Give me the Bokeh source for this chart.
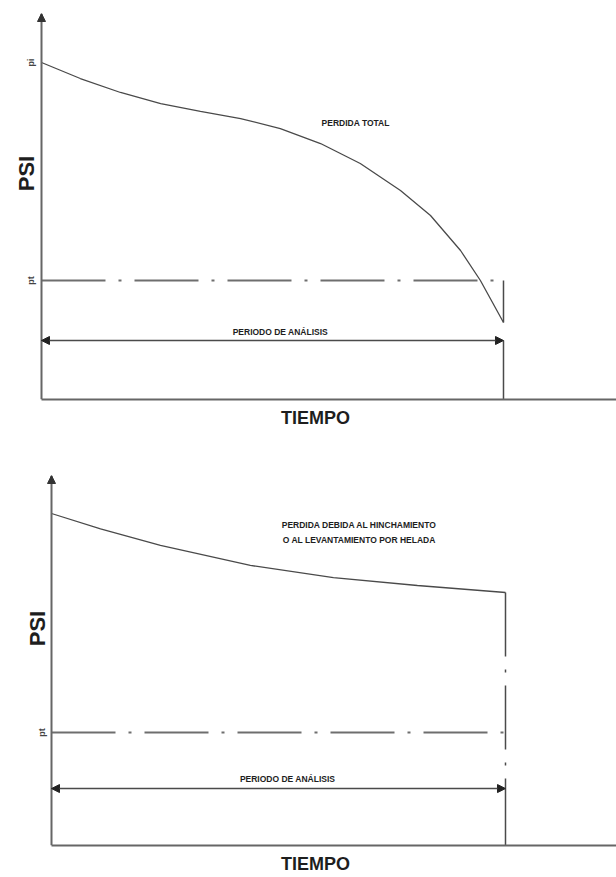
import math
from bokeh.plotting import figure
from bokeh.layouts import column
from bokeh.models import Range1d, FixedTicker, Label, Arrow, NormalHead
from bokeh.core.properties import value
from bokeh.embed import file_html
from bokeh.resources import INLINE

# ---------------- data ----------------
# Panel 1: total serviceability loss
time_total = [0, 8.4, 17.1, 25.8, 34.4, 43.1, 51.7, 60.4, 69.0, 77.7, 84.2, 90.7, 95.0, 100]
psi_total = [4.20, 4.075, 3.966, 3.880, 3.818, 3.763, 3.685, 3.568, 3.412, 3.202, 3.007, 2.734, 2.500, 2.172]
# Panel 2: loss due to swelling / frost heave
time_swell = [0, 10.8, 24.0, 43.8, 62.1, 80.6, 100]
psi_swell = [4.20, 4.08, 3.952, 3.797, 3.703, 3.641, 3.587]

p_initial = 4.2
p_terminal = 2.5
period_end = 100
tick_values_top = [4.2, 2.5]
tick_labels_top = ["pi", "pt"]
tick_values_bottom = [2.5]
tick_labels_bottom = ["pt"]

FONT = "Liberation Sans"
AX = "#666666"
LN = "#4a4a4a"
DASH = "#6e6e6e"
TXT = "#1e1e1e"


def make_panel(h, x_lo, x_hi, y_lo, y_hi, ticks, labels, borders, psi_y, psi_dx):
    border_left, border_top, border_bottom = borders
    p = figure(width=616, height=h, output_backend="svg", toolbar_location=None,
               x_range=Range1d(x_lo, x_hi), y_range=Range1d(y_lo, y_hi),
               min_border_left=border_left, min_border_right=0,
               min_border_top=border_top, min_border_bottom=border_bottom)
    p.outline_line_color = None
    p.grid.visible = False
    p.background_fill_color = "white"
    # y axis drawn at time = 0
    ya = p.yaxis[0]
    ya.fixed_location = 0
    ya.ticker = FixedTicker(ticks=[])
    ya.major_label_standoff = 0
    ya.major_label_text_font_size = "0px"
    ya.major_tick_out = 0
    ya.major_tick_in = 0
    ya.minor_tick_out = 0
    ya.minor_tick_in = 0
    ya.axis_line_color = AX
    ya.axis_line_width = 2
    # x axis
    xa = p.xaxis[0]
    xa.bounds = (0, x_hi)
    xa.ticker = FixedTicker(ticks=[])
    xa.major_tick_out = 0
    xa.minor_tick_out = 0
    xa.axis_line_color = AX
    xa.axis_line_width = 2
    xa.axis_label = "TIEMPO"
    xa.axis_label_text_font = FONT
    xa.axis_label_text_font_style = "bold"
    xa.axis_label_text_font_size = "18px"
    xa.axis_label_text_color = TXT
    xa.axis_label_standoff = 8
    # tick labels (pi / pt) next to the y axis
    p.text(x=[0] * len(ticks), y=ticks, text=labels, angle=math.pi / 2, x_offset=-10,
           text_font=value(FONT), text_font_size="9px", text_font_style="bold",
           text_color="#444444", text_align="center", text_baseline="middle")
    # PSI label
    p.text(x=[0], y=[psi_y], text=["PSI"], angle=math.pi / 2, x_offset=psi_dx,
           text_font=value(FONT), text_font_size="22px", text_font_style="bold",
           text_color=TXT, text_align="center", text_baseline="middle")
    # arrow head on y axis
    p.add_layout(Arrow(end=NormalHead(size=8, fill_color="#333333", line_color="#333333"),
                       x_start=0, y_start=y_hi - 0.05, x_end=0, y_end=y_hi,
                       line_alpha=0))
    return p


def add_period(p, y_arrow, y_text, x_text):
    p.add_layout(Arrow(start=NormalHead(size=8, fill_color="#222222", line_color="#222222"),
                       end=NormalHead(size=8, fill_color="#222222", line_color="#222222"),
                       x_start=0, y_start=y_arrow, x_end=period_end, y_end=y_arrow,
                       line_color=LN, line_width=1.5))
    p.add_layout(Label(x=x_text, y=y_text, text="PERIODO DE ANÁLISIS", text_font=FONT,
                       text_font_size="8.5px", text_font_style="bold", text_color=TXT,
                       text_align="center", text_baseline="middle"))


# ---------------- top panel ----------------
top_lo, top_hi = 1.572, 4.582
p1 = make_panel(440, -5.844, 124.46, top_lo, top_hi, tick_values_top, tick_labels_top,
                (14, 13, 41), 3.334, -15)
p1.line([0, period_end], [p_terminal, p_terminal], line_color=DASH, line_width=2,
        line_dash="64 13 3 13")
p1.line(time_total, psi_total, line_color=LN, line_width=1.3)
p1.line([period_end, period_end], [p_terminal, psi_total[-1]], line_color=LN, line_width=1.5)
p1.line([period_end, period_end], [2.032, top_lo], line_color=LN, line_width=1.5)
add_period(p1, 2.032, 2.095, 51.7)
p1.add_layout(Label(x=68, y=3.732, text="PERDIDA TOTAL", text_font=FONT,
                    text_font_size="8.5px", text_font_style="bold", text_color=TXT,
                    text_align="center", text_baseline="middle"))

# ---------------- bottom panel ----------------
bot_lo, bot_hi = 1.623, 4.495
p2 = make_panel(437, -8.15, 124.45, bot_lo, bot_hi, tick_values_bottom, tick_labels_bottom,
                (14, 35, 32), 3.307, -14)
p2.line([0, period_end], [p_terminal, p_terminal], line_color=DASH, line_width=2,
        line_dash="64 13 3 13")
p2.line(time_swell, psi_swell, line_color=LN, line_width=1.3)
p2.line([period_end, period_end], [psi_swell[-1], 2.065], line_color=LN, line_width=1.5,
        line_dash="64 13 3 13")
p2.line([period_end, period_end], [2.065, bot_lo], line_color=LN, line_width=1.5)
add_period(p2, 2.065, 2.14, 52)
p2.add_layout(Label(x=67.8, y=4.107, text="PERDIDA DEBIDA AL HINCHAMIENTO", text_font=FONT,
                    text_font_size="8.5px", text_font_style="bold", text_color=TXT,
                    text_align="center", text_baseline="middle"))
p2.add_layout(Label(x=67.8, y=3.991, text="O AL LEVANTAMIENTO POR HELADA", text_font=FONT,
                    text_font_size="8.5px", text_font_style="bold", text_color=TXT,
                    text_align="center", text_baseline="middle"))

layout = column(p1, p2, spacing=0)
open("out.html", "w").write(file_html(layout, INLINE))
